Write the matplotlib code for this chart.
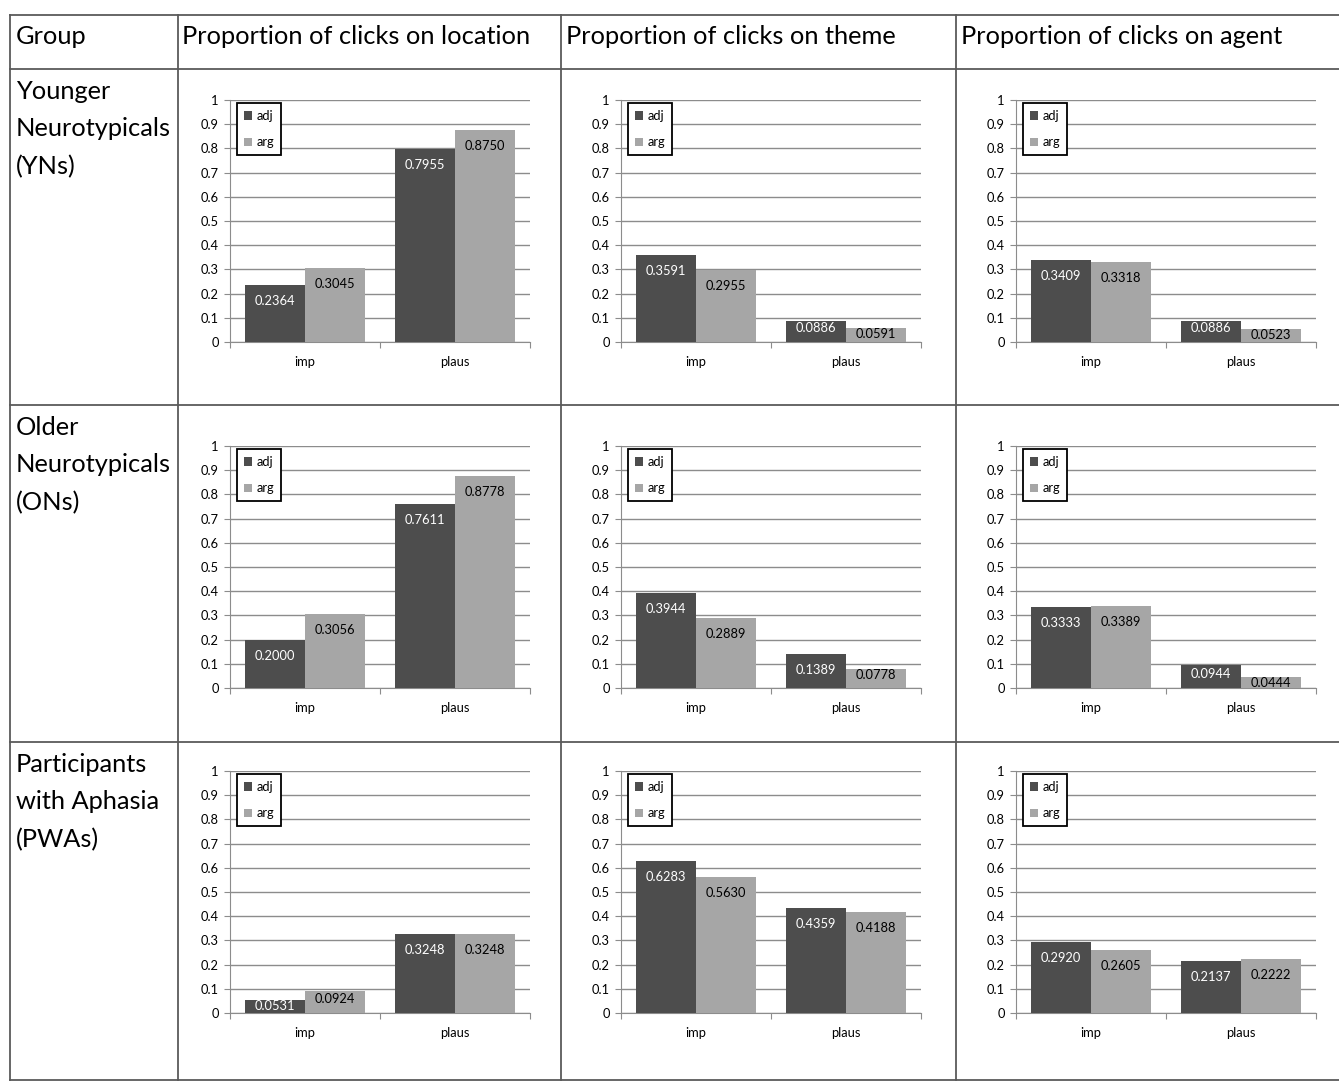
import numpy as np
import matplotlib.pyplot as plt
from matplotlib.lines import Line2D

plt.rcParams['font.family'] = ['Lato', 'DejaVu Sans']

groups = ["Younger\nNeurotypicals\n(YNs)", "Older\nNeurotypicals\n(ONs)", "Participants\nwith Aphasia\n(PWAs)"]
columns = ["Proportion of clicks on location", "Proportion of clicks on theme", "Proportion of clicks on agent"]
categories = ["imp", "plaus"]

# adj / arg values per group (rows) and target (columns), ordered imp, plaus
adj = [
    [[0.2364, 0.7955], [0.3591, 0.0886], [0.3409, 0.0886]],
    [[0.2000, 0.7611], [0.3944, 0.1389], [0.3333, 0.0944]],
    [[0.0531, 0.3248], [0.6283, 0.4359], [0.2920, 0.2137]],
]
arg = [
    [[0.3045, 0.8750], [0.2955, 0.0591], [0.3318, 0.0523]],
    [[0.3056, 0.8778], [0.2889, 0.0778], [0.3389, 0.0444]],
    [[0.0924, 0.3248], [0.5630, 0.4188], [0.2605, 0.2222]],
]

W, H = 1339, 1085
fig = plt.figure(figsize=(W / 100, H / 100), dpi=100)

dark = '#4d4d4d'
light = '#a6a6a6'
line_col = '#5a5a5a'

# table grid
def hline(y, x0=10, x1=1339):
    fig.add_artist(Line2D([x0 / W, x1 / W], [1 - y / H, 1 - y / H], color=line_col, lw=1.3))

def vline(x, y0=15, y1=1080):
    fig.add_artist(Line2D([x / W, x / W], [1 - y0 / H, 1 - y1 / H], color=line_col, lw=1.3))

for y in [15, 69, 405, 742, 1080]:
    hline(y)
for x in [10, 178, 561, 956]:
    vline(x)

hdr_size = 18.3
fig.text(16 / W, 1 - 36 / H, "Group", fontsize=hdr_size, va='center', ha='left')
col_x = [182, 566, 961]
for cx, t in zip(col_x, columns):
    fig.text(cx / W, 1 - 36 / H, t, fontsize=hdr_size, va='center', ha='left')

row_tops = [69, 405, 742]
for rt, g in zip(row_tops, groups):
    fig.text(16 / W, 1 - (rt + 11) / H, g, fontsize=hdr_size, va='top', ha='left', linespacing=1.76)

ax_left = [230, 621, 1016]
ax_top = [100, 446, 771]
ax_w, ax_h = 300, 242

x = np.arange(len(categories))
bw = 0.4
for r in range(3):
    for c in range(3):
        ax = fig.add_axes([ax_left[c] / W, 1 - (ax_top[r] + ax_h) / H, ax_w / W, ax_h / H])
        a = adj[r][c]
        b = arg[r][c]
        ax.bar(x - bw / 2, a, bw, color=dark, label='adj', zorder=3)
        ax.bar(x + bw / 2, b, bw, color=light, label='arg', zorder=3)
        for xi, v in zip(x, a):
            off = np.clip(v - 14 / ax_h, 6 / ax_h, 16 / ax_h)
            ax.text(xi - bw / 2, v - off, f"{v:.4f}", ha='center', va='center',
                    color='white', fontsize=9.3, zorder=4)
        for xi, v in zip(x, b):
            off = np.clip(v - 14 / ax_h, 6 / ax_h, 16 / ax_h)
            ax.text(xi + bw / 2, v - off, f"{v:.4f}", ha='center', va='center',
                    color='black', fontsize=9.3, zorder=4)
        ax.set_xlim(-0.5, 1.5)
        ax.set_ylim(0, 1)
        ax.set_yticks(np.arange(0, 1.01, 0.1))
        ax.set_yticklabels(['0'] + [f"{t:.1f}" for t in np.arange(0.1, 0.95, 0.1)] + ['1'])
        ax.yaxis.grid(True, color='#8c8c8c', lw=1.0, zorder=0)
        ax.set_xticks([-0.5, 0.5, 1.5])
        ax.set_xticklabels([])
        ax.set_xticks(x, minor=True)
        ax.set_xticklabels(categories, minor=True)
        ax.tick_params(axis='x', which='major', length=4, color='#8c8c8c', direction='out')
        ax.tick_params(axis='x', which='minor', length=0, pad=10, labelsize=9.3)
        ax.tick_params(axis='y', length=4, color='#8c8c8c', labelsize=9.3, pad=4)
        for s in ['top', 'right']:
            ax.spines[s].set_visible(False)
        for s in ['left', 'bottom']:
            ax.spines[s].set_color('#8c8c8c')
        ax.set_facecolor('none')
        leg = ax.legend(loc='upper left', bbox_to_anchor=(0.023, 0.988), fontsize=9.3,
                        frameon=True, fancybox=False, edgecolor='black', framealpha=1,
                        handlelength=0.6, handleheight=0.6, handletextpad=0.35,
                        labelspacing=1.1, borderpad=0.55, borderaxespad=0)
        leg.get_frame().set_linewidth(1.3)

fig.savefig('out.png', dpi=100)
